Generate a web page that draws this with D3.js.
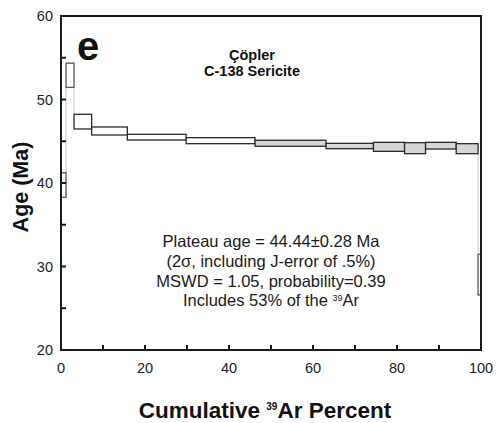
<!DOCTYPE html>
<html>
<head>
<meta charset="utf-8">
<script src="https://cdn.jsdelivr.net/npm/d3@7"></script>
<style>
  html, body { margin: 0; padding: 0; background: #fff; }
  svg { display: block; font-family: "Liberation Sans", Arial, Helvetica, sans-serif; }
</style>
</head>
<body>
<svg id="chart" width="499" height="423"></svg>
<script>
// Step-heating boundaries (cumulative 39Ar %), one more entry than steps
const cumulative = [0, 1.2, 3.1, 7.3, 15.8, 29.8, 46.2, 63.1, 74.4, 81.8, 86.8, 94.1, 99.3, 100];
// Apparent age of each step (Ma) and its 2σ half-width
const ages   = [39.76, 52.9, 47.35, 46.23, 45.49, 45.07, 44.76, 44.43, 44.33, 44.17, 44.47, 44.11, 29.03];
const errors = [1.47, 1.45, 0.88, 0.48, 0.34, 0.36, 0.36, 0.32, 0.54, 0.66, 0.40, 0.60, 2.44];
// Steps included in the plateau
const plateau = [false, false, false, false, false, false, true, true, true, true, true, true, false];

const xTicks = [0, 20, 40, 60, 80, 100];
const xMinor = [10, 30, 50, 70, 90];
const yTicks = [20, 30, 40, 50, 60];
const yMinor = [25, 35, 45, 55];

const plateauText = [
  "Plateau age = 44.44\u00b10.28 Ma",
  "(2\u03c3, including J-error of .5%)",
  "MSWD = 1.05, probability=0.39"
];

const W = 499, H = 423;
const margin = { top: 16, right: 18, bottom: 73, left: 61 };
const svg = d3.select("#chart");
const ink = "#1a1a1a";

const x = d3.scaleLinear().domain([0, 100]).range([margin.left, W - margin.right]);
const y = d3.scaleLinear().domain([20, 60]).range([H - margin.bottom, margin.top]);

const steps = ages.map((a, i) => ({
  x0: cumulative[i], x1: cumulative[i + 1],
  lo: a - errors[i], hi: a + errors[i], plateau: plateau[i]
}));

// thin connectors between consecutive steps
const g = svg.append("g");
for (let i = 1; i < steps.length; i++) {
  const p = steps[i - 1], s = steps[i];
  let a, b;
  if (s.lo > p.hi) { a = p.hi; b = s.lo; }
  else if (s.hi < p.lo) { a = p.lo; b = s.hi; }
  else continue;
  g.append("line")
    .attr("x1", x(s.x0)).attr("x2", x(s.x0))
    .attr("y1", y(a)).attr("y2", y(b))
    .attr("stroke", "#c4c4c4").attr("stroke-width", 1);
}

// step boxes
g.selectAll("rect.step").data(steps).join("rect")
  .attr("class", "step")
  .attr("x", d => x(d.x0))
  .attr("width", d => x(d.x1) - x(d.x0))
  .attr("y", d => y(d.hi))
  .attr("height", d => y(d.lo) - y(d.hi))
  .attr("fill", d => d.plateau ? "#d6d6d6" : "#fff")
  .attr("stroke", (d, i) => i < 2 || i === steps.length - 1 ? "#555" : "#2a2a2a")
  .attr("stroke-width", 1.3);

// frame
svg.append("rect")
  .attr("x", x(0)).attr("y", y(60))
  .attr("width", x(100) - x(0)).attr("height", y(20) - y(60))
  .attr("fill", "none").attr("stroke", ink).attr("stroke-width", 2);

// inward ticks
const tickLen = 5;
const ticks = svg.append("g");
xTicks.concat(xMinor).forEach(v => {
  ticks.append("line").attr("x1", x(v)).attr("x2", x(v))
    .attr("y1", y(20)).attr("y2", y(20) - tickLen)
    .attr("stroke", ink).attr("stroke-width", 2);
});
yTicks.concat(yMinor).forEach(v => {
  ticks.append("line").attr("x1", x(0)).attr("x2", x(0) + tickLen)
    .attr("y1", y(v)).attr("y2", y(v))
    .attr("stroke", ink).attr("stroke-width", 2);
});

// tick labels
svg.append("g").selectAll("text").data(xTicks).join("text")
  .attr("x", d => x(d)).attr("y", y(20) + 23)
  .attr("text-anchor", "middle").attr("font-size", 14.5).attr("fill", "#222")
  .text(d3.format("d"));
svg.append("g").selectAll("text").data(yTicks).join("text")
  .attr("x", x(0) - 8).attr("y", d => y(d)).attr("dy", "0.36em")
  .attr("text-anchor", "end").attr("font-size", 14.5).attr("fill", "#222")
  .text(d3.format("d"));

// panel letter
svg.append("text").attr("x", 77).attr("y", 60)
  .attr("font-size", 40).attr("font-weight", "bold").attr("fill", "#111").text("e");

// sample title
const title = svg.append("text").attr("text-anchor", "middle")
  .attr("font-size", 14.5).attr("font-weight", "bold").attr("fill", "#111");
title.append("tspan").attr("x", 252).attr("y", 60).text("Çöpler");
title.append("tspan").attr("x", 252).attr("y", 76).text("C-138 Sericite");

// plateau summary
const info = svg.append("text").attr("text-anchor", "middle")
  .attr("font-size", 16.5).attr("fill", ink);
plateauText.forEach((t, i) => {
  info.append("tspan").attr("x", 271).attr("y", 247 + i * 19.8).text(t);
});
const last = info.append("tspan").attr("x", 271).attr("y", 247 + 3 * 19.8);
last.append("tspan").text("Includes 53% of the ");
last.append("tspan").attr("font-size", 9).attr("dy", -5).text("39");
last.append("tspan").attr("dy", 5).text("Ar");

// axis titles
svg.append("text")
  .attr("transform", `translate(28,${(y(20) + y(60)) / 2 + 4}) rotate(-90)`)
  .attr("text-anchor", "middle").attr("font-size", 21.5).attr("font-weight", "bold").attr("fill", "#111")
  .text("Age (Ma)");

const xt = svg.append("text").attr("x", 265).attr("y", 418).attr("text-anchor", "middle")
  .attr("font-size", 22.5).attr("font-weight", "bold").attr("fill", "#111");
xt.append("tspan").text("Cumulative  ");
xt.append("tspan").attr("font-size", 10).attr("dy", -8).text("39");
xt.append("tspan").attr("dy", 8).text("Ar Percent");
</script>
</body>
</html>
